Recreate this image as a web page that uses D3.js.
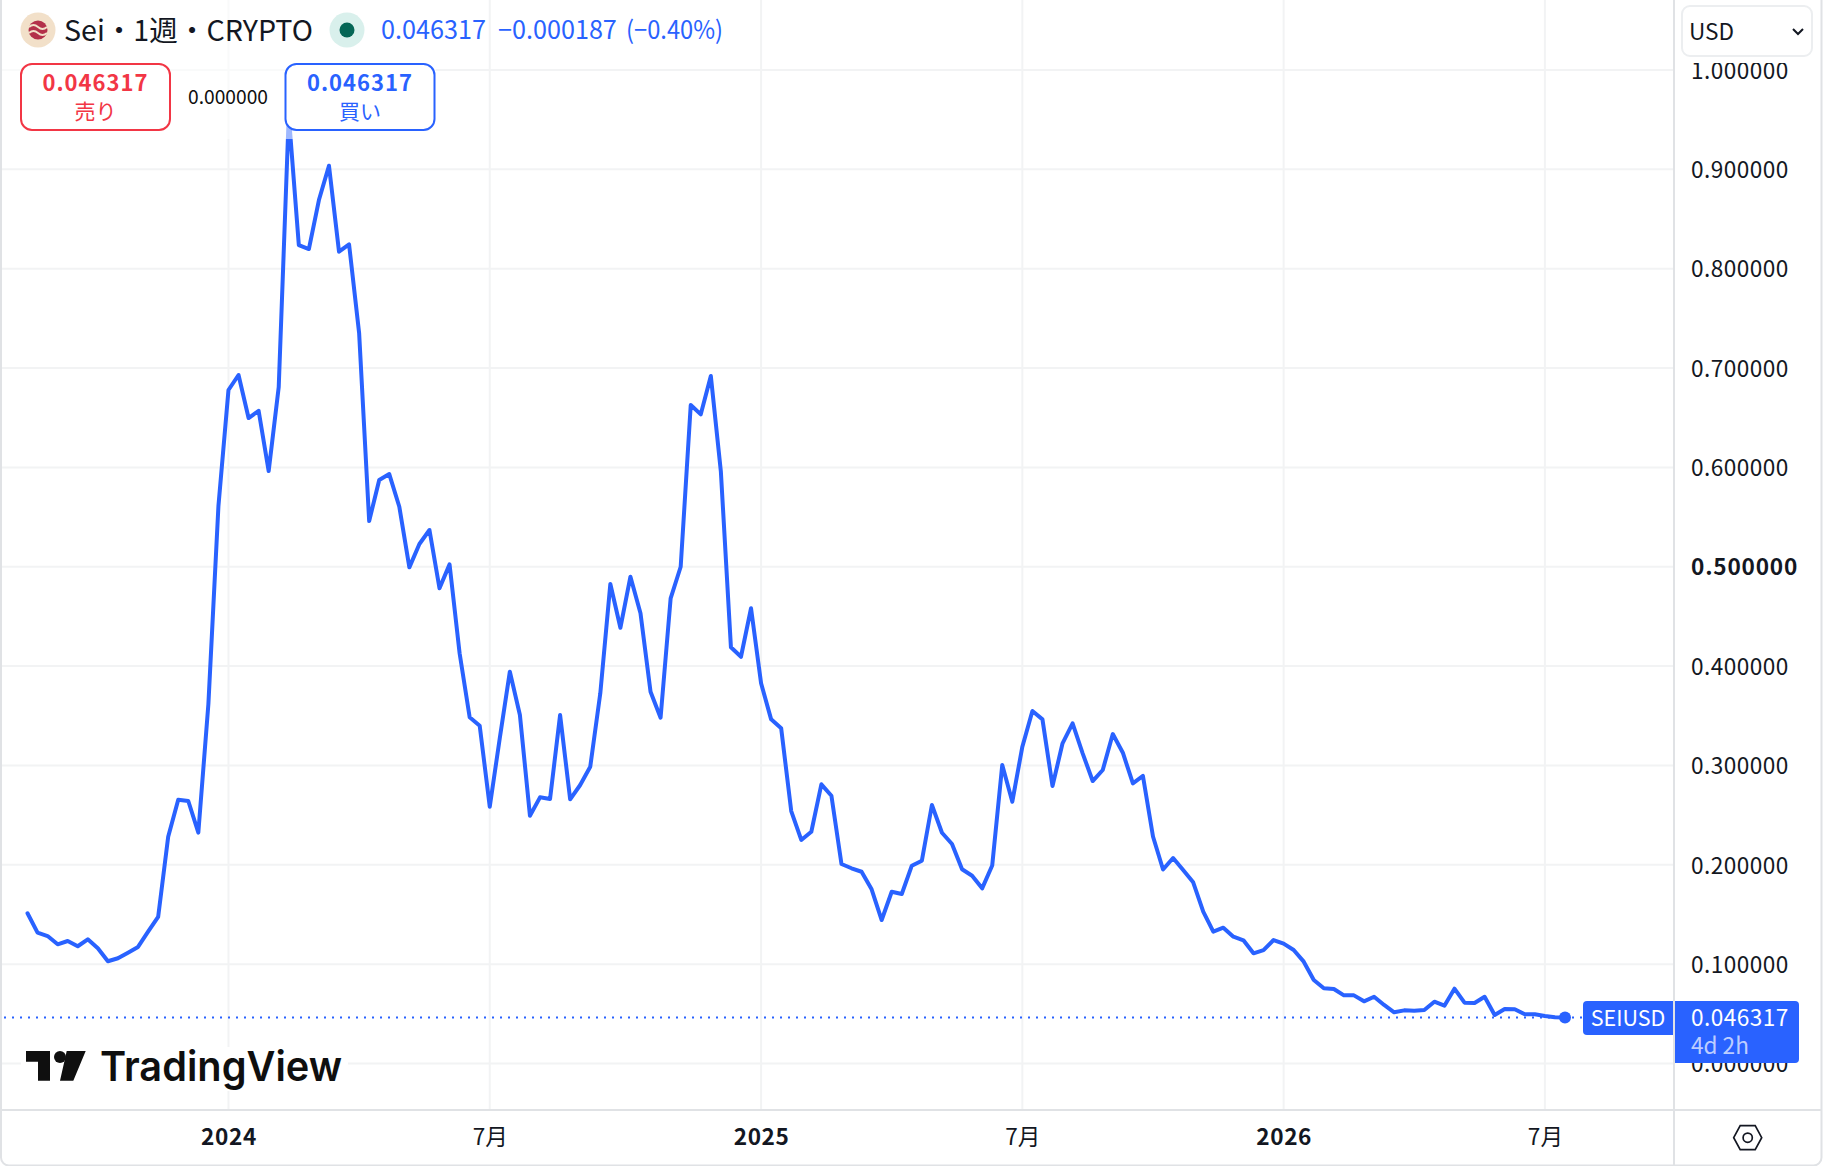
<!DOCTYPE html>
<html lang="ja">
<head>
<meta charset="utf-8">
<title>Sei 1週 CRYPTO</title>
<script src="https://cdnjs.cloudflare.com/ajax/libs/d3/7.9.0/d3.min.js"></script>
<style>
  html, body { margin: 0; padding: 0; background: #fff; }
  svg { display: block; }
  text { font-family: "Noto Sans CJK JP", "Noto Sans", sans-serif; }
</style>
</head>
<body>
<svg id="chart" width="1824" height="1166"></svg>
<script>
// Weekly closing prices of SEIUSD, oldest first
const closes = [
  0.1512,0.1317,0.1283,0.1200,0.1233,0.1180,0.1250,0.1160,0.1029,0.1059,
  0.1115,0.1173,0.1327,0.1475,0.2283,0.2655,0.2642,0.2323,0.3618,0.5611,
  0.6779,0.6930,0.6497,0.6570,0.5963,0.6809,0.9547,0.8238,0.8198,0.8691,
  0.9036,0.8171,0.8245,0.7353,0.5460,0.5873,0.5933,0.5604,0.4994,0.5229,
  0.5370,0.4783,0.5024,0.4129,0.3485,0.3400,0.2585,0.3276,0.3944,0.3508,
  0.2494,0.2679,0.2662,0.3508,0.2659,0.2803,0.2987,0.3726,0.4826,0.4386,
  0.4900,0.4531,0.3742,0.3481,0.4682,0.5000,0.6628,0.6534,0.6920,0.5956,
  0.4189,0.4094,0.4582,0.3827,0.3464,0.3374,0.2541,0.2250,0.2333,0.2810,
  0.2695,0.2008,0.1965,0.1930,0.1753,0.1444,0.1729,0.1706,0.1991,0.2041,
  0.2602,0.2323,0.2209,0.1955,0.1890,0.1763,0.1993,0.3004,0.2635,0.3189,
  0.3548,0.3464,0.2793,0.3223,0.3424,0.3122,0.2843,0.2954,0.3316,0.3128,
  0.2820,0.2894,0.2285,0.1953,0.2068,0.1948,0.1824,0.1528,0.1327,0.1367,
  0.1276,0.1240,0.1109,0.1142,0.1243,0.1206,0.1142,0.1025,0.0840,0.0757,
  0.0750,0.0686,0.0686,0.0626,0.0672,0.0589,0.0515,0.0535,0.0531,0.0538,
  0.0622,0.0582,0.0753,0.0612,0.0609,0.0672,0.0488,0.0549,0.0546,0.0495,
  0.0495,0.0478,0.046504,0.046317
];

// Time axis: week index of each labelled boundary
const timeTickWeeks = [20, 46, 73, 99, 125, 151];
const timeTickLabels = ["2024", "7月", "2025", "7月", "2026", "7月"];
const boldTimeLabels = ["2024", "2025", "2026"];

// Price axis
const priceTicks = [0, 0.1, 0.2, 0.3, 0.4, 0.5, 0.6, 0.7, 0.8, 0.9, 1.0];
const boldPrice = 0.5;

// Header and quote labels
const symbolTitle = "Sei・1週・CRYPTO";
const lastPrice = closes[closes.length - 1];
const changeText = "−0.000187";
const changePctText = "(−0.40%)";
const spreadText = "0.000000";
const countdownText = "4d 2h";
const tickerText = "SEIUSD";
const currencyText = "USD";

const BLUE = "#2962ff", RED = "#f23645", INK = "#131722", GRID = "#f2f3f4", EDGE = "#e0e2e5";
const plot = { left: 2, right: 1673, top: 0, bottom: 1109 };

const x = d3.scaleLinear().domain([0, closes.length - 1]).range([27.5, 1565]);
const y = d3.scaleLinear().domain([0, 1]).range([1063.5, 70]);
const fmt = d3.format(".6f");

const svg = d3.select("#chart");

// Grid
const grid = svg.append("g").attr("stroke", GRID).attr("stroke-width", 2);
grid.selectAll("line.h").data(priceTicks).join("line").attr("class", "h")
  .attr("x1", plot.left).attr("x2", plot.right)
  .attr("y1", d => y(d)).attr("y2", d => y(d));
grid.selectAll("line.v").data(timeTickWeeks).join("line").attr("class", "v")
  .attr("x1", d => x(d)).attr("x2", d => x(d))
  .attr("y1", plot.top).attr("y2", plot.bottom);

// TradingView watermark, with its white clearance over the grid
const mark = svg.append("g");
mark.append("rect").attr("x", 21).attr("y", 1047).attr("width", 327).attr("height", 44).attr("fill", "#fff");
mark.append("path").attr("fill", "#0f0f0f")
  .attr("d", "M26 1051H50V1080.7H38V1061.7H26Z M66.7 1051H85.7L73.3 1080.7H60Z");
mark.append("circle").attr("cx", 60).attr("cy", 1057).attr("r", 6).attr("fill", "#0f0f0f");
mark.append("text").attr("x", 100).attr("y", 1080.7)
  .attr("textLength", 242).attr("lengthAdjust", "spacingAndGlyphs")
  .style("font-family", "Inter, sans-serif").style("font-size", "41px").style("font-weight", 600)
  .attr("fill", "#0f0f0f").text("TradingView");

// Last price dotted guide
svg.append("line")
  .attr("x1", plot.left + 2).attr("x2", 1583)
  .attr("y1", y(lastPrice)).attr("y2", y(lastPrice))
  .attr("stroke", BLUE).attr("stroke-width", 2).attr("stroke-dasharray", "2 6");

// Price line
const line = d3.line().x((d, i) => x(i)).y(d => y(d));
svg.append("path").datum(closes)
  .attr("fill", "none").attr("stroke", BLUE).attr("stroke-width", 4)
  .attr("stroke-linejoin", "round").attr("stroke-linecap", "round")
  .attr("d", line);
svg.append("circle")
  .attr("cx", x(closes.length - 1)).attr("cy", y(lastPrice)).attr("r", 6).attr("fill", BLUE);

// Translucent veil under the quote buttons
svg.append("rect").attr("x", plot.left).attr("y", 0).attr("width", 434).attr("height", 139)
  .attr("fill", "#fff").attr("opacity", 0.55);

// Axis panes and frame
svg.append("line").attr("x1", 0).attr("x2", 1822).attr("y1", 1110).attr("y2", 1110)
  .attr("stroke", EDGE).attr("stroke-width", 2);
svg.append("line").attr("x1", 1674).attr("x2", 1674).attr("y1", 0).attr("y2", 1166)
  .attr("stroke", EDGE).attr("stroke-width", 2);
svg.append("rect").attr("x", 1).attr("y", -10).attr("width", 1820.5).attr("height", 1175.5).attr("rx", 8)
  .attr("fill", "none").attr("stroke", EDGE).attr("stroke-width", 2);

// Price axis
const priceAxis = svg.append("g").attr("transform", "translate(1691,1)")
  .call(d3.axisRight(y).tickValues(priceTicks).tickFormat(fmt).tickSize(0).tickPadding(0));
priceAxis.select(".domain").remove();
priceAxis.selectAll("text")
  .attr("fill", INK)
  .style("font-size", "22.6px")
  .style("letter-spacing", d => d === boldPrice ? "0.8px" : "0.45px")
  .style("font-weight", d => d === boldPrice ? 700 : 400);

// Time axis
const timeAxis = svg.append("g").attr("transform", "translate(0,1128.5)")
  .call(d3.axisBottom(x).tickValues(timeTickWeeks)
    .tickFormat((d, i) => timeTickLabels[i]).tickSize(0).tickPadding(0));
timeAxis.select(".domain").remove();
timeAxis.selectAll("text")
  .attr("fill", INK)
  .style("font-size", "22.6px")
  .style("letter-spacing", (d, i) => boldTimeLabels.includes(timeTickLabels[i]) ? "0.6px" : "0")
  .style("font-weight", (d, i) => boldTimeLabels.includes(timeTickLabels[i]) ? 700 : 400);

// Settings hexagon
const gear = svg.append("g").attr("transform", "translate(1747.7,1137.7)")
  .attr("fill", "none").attr("stroke", INK).attr("stroke-width", 1.7);
gear.append("path").attr("d", "M-14 0L-7.5 -12H7.5L14 0L7.5 12H-7.5Z");
gear.append("circle").attr("r", 4.6);

// Currency selector, with a white margin that trims the tick label below it
svg.append("rect").attr("x", 1676).attr("y", 0).attr("width", 144).attr("height", 63).attr("fill", "#fff");
svg.append("rect").attr("x", 1682).attr("y", 6).attr("width", 130).attr("height", 50).attr("rx", 8)
  .attr("fill", "#fff").attr("stroke", "#eceef0").attr("stroke-width", 2);
svg.append("text").attr("x", 1689).attr("y", 40).attr("fill", INK).style("font-size", "22.6px").text(currencyText);
svg.append("path").attr("d", "M1793 29L1798 34L1803 29").attr("fill", "none").attr("stroke", INK).attr("stroke-width", 2);

// Last price tags
const tagTop = 1001;
svg.append("path").attr("fill", BLUE)
  .attr("d", `M1673 ${tagTop}H1587a4 4 0 0 0 -4 4V${tagTop + 30}a4 4 0 0 0 4 4H1673Z`);
svg.append("path").attr("fill", BLUE)
  .attr("d", `M1675 ${tagTop}H1795a4 4 0 0 1 4 4V${tagTop + 58}a4 4 0 0 1 -4 4H1675Z`);
svg.append("text").attr("x", 1628).attr("y", tagTop + 25).attr("text-anchor", "middle")
  .attr("fill", "#fff").style("font-size", "21.5px").text(tickerText);
svg.append("text").attr("x", 1691).attr("y", tagTop + 25)
  .attr("fill", "#fff").style("font-size", "22.6px").style("letter-spacing", "0.45px").text(fmt(lastPrice));
svg.append("text").attr("x", 1691).attr("y", tagTop + 53)
  .attr("fill", "#fff").attr("fill-opacity", 0.7).style("font-size", "22.6px").text(countdownText);

// Symbol badge
const badge = svg.append("g").attr("transform", "translate(38,30)");
badge.append("circle").attr("r", 17.5).attr("fill", "#f2e0c9");
badge.append("circle").attr("r", 9.5).attr("fill", "#b3304a");
badge.append("path").attr("fill", "none").attr("stroke", "#f2e0c9").attr("stroke-width", 1.8)
  .attr("d", "M-9 -3Q-4.5 -7 0 -3T9 -3 M-9 3Q-4.5 -1 0 3T9 3");

svg.append("text").attr("x", 64).attr("y", 41).attr("fill", INK).style("font-size", "28.6px").text(symbolTitle);

// Market status dot
svg.append("circle").attr("cx", 347).attr("cy", 30).attr("r", 17.5).attr("fill", "#d9f0ec");
svg.append("circle").attr("cx", 347).attr("cy", 30).attr("r", 7.5).attr("fill", "#056656");

// Quote summary
const quote = svg.append("g").attr("fill", BLUE).style("font-size", "25.2px");
quote.append("text").attr("x", 381).attr("y", 39).text(fmt(lastPrice));
quote.append("text").attr("x", 498).attr("y", 39).text(changeText);
quote.append("text").attr("x", 626).attr("y", 39)
  .attr("textLength", 97).attr("lengthAdjust", "spacingAndGlyphs").text(changePctText);

// Sell and buy buttons
function quoteButton(left, width, color, action) {
  const g = svg.append("g");
  g.append("rect").attr("x", left).attr("y", 64).attr("width", width).attr("height", 66).attr("rx", 11)
    .attr("fill", "#fff").attr("stroke", color).attr("stroke-width", 2);
  g.append("text").attr("x", left + width / 2).attr("y", 91).attr("text-anchor", "middle")
    .attr("fill", color).style("font-size", "22px").style("letter-spacing", "1px").style("font-weight", 700).text(fmt(lastPrice));
  g.append("text").attr("x", left + width / 2).attr("y", 119).attr("text-anchor", "middle")
    .attr("fill", color).style("font-size", "21px").text(action);
}
quoteButton(21, 149, RED, "売り");
quoteButton(285.5, 149, BLUE, "買い");
svg.append("text").attr("x", 228).attr("y", 104).attr("text-anchor", "middle")
  .attr("fill", "#0f0f0f").style("font-size", "19.2px").text(spreadText);
</script>
</body>
</html>
